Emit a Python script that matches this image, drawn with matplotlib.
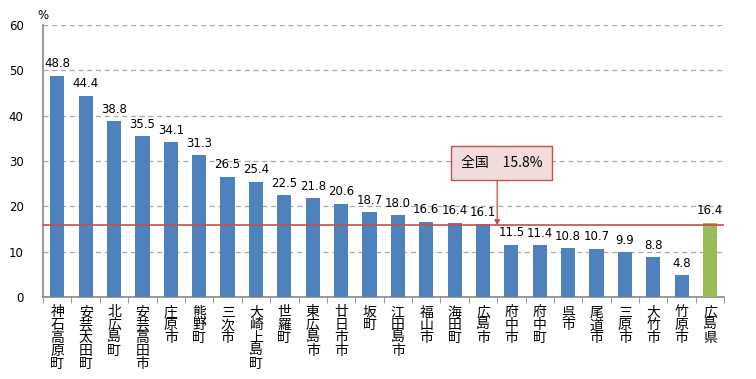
import matplotlib
matplotlib.use('Agg')
import matplotlib.pyplot as plt
import numpy as np

plt.rcParams['font.family'] = ['Noto Sans CJK JP', 'DejaVu Sans']

areas = ['神石高原町', '安芸太田町', '北広島町', '安芸高田市', '庄原市', '熊野町', '三次市',
         '大崎上島町', '世羅町', '東広島市', '廿日市市', '坂町', '江田島市', '福山市', '海田町',
         '広島市', '府中市', '府中町', '呉市', '尾道市', '三原市', '大竹市', '竹原市', '広島県']
values = [48.8, 44.4, 38.8, 35.5, 34.1, 31.3, 26.5, 25.4, 22.5, 21.8, 20.6, 18.7, 18.0,
          16.6, 16.4, 16.1, 11.5, 11.4, 10.8, 10.7, 9.9, 8.8, 4.8, 16.4]
national = 15.8

blue = '#4f81bd'
green = '#9bbb59'
red = '#c0504d'

fig = plt.figure(figsize=(7.56, 3.79), dpi=100)
ax = fig.add_axes([0.057, 0.216, 0.901, 0.718])

x = np.arange(len(areas))
colors = [blue] * (len(areas) - 1) + [green]
ax.bar(x, values, width=0.5, color=colors, zorder=3)

for xi, v in zip(x, values):
    ax.annotate(f'{v:.1f}', (xi, v), xytext=(0, 4), textcoords='offset points',
                ha='center', va='bottom', fontsize=8.5, family='DejaVu Sans')

ax.axhline(national, color=red, lw=1.2, zorder=4)

ax.set_xlim(-0.5, len(areas) - 0.5)
ax.set_ylim(0, 60)
ax.set_yticks(range(0, 61, 10))
ax.yaxis.grid(True, linestyle=(0, (4, 3)), color='#a8a8a8', lw=0.9, zorder=0)
ax.tick_params(axis='y', length=0, labelsize=8.5, pad=14)
for lab in ax.get_yticklabels():
    lab.set_family('DejaVu Sans')

ax.set_xticks(x)
ax.set_xticklabels(['\n'.join(a) for a in areas], fontsize=10, linespacing=0.9, va='top')
ax.tick_params(axis='x', length=0, pad=6)
ax.set_xticks(np.arange(-0.5, len(areas), 1), minor=True)
ax.tick_params(axis='x', which='minor', length=4, color='#888888', direction='out')

for s in ['top', 'right']:
    ax.spines[s].set_visible(False)
for s in ['left', 'bottom']:
    ax.spines[s].set_color('#888888')
    ax.spines[s].set_linewidth(1.2)

# 全国 callout
ax.text(15.65, 29.6, '全国　15.8%', ha='center', va='center', fontsize=10, zorder=6,
        bbox=dict(boxstyle='square,pad=0.7', fc='#f2dcdb', ec=red, lw=1))
ax.annotate('', xy=(15.5, national), xytext=(15.5, 27.5),
            arrowprops=dict(arrowstyle='-|>', color=red, lw=0.9, mutation_scale=8,
                            shrinkA=0, shrinkB=0),
            zorder=5)

fig.text(0.05, 0.96, '%', fontsize=8.5, ha='left', va='center', family='DejaVu Sans')

fig.savefig('out.png', dpi=100)
